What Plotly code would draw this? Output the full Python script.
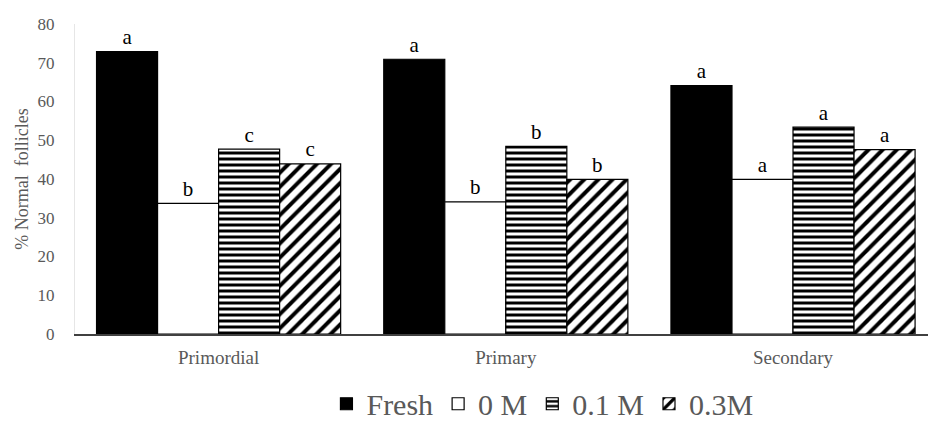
import plotly.graph_objects as go

categories = ["Primordial", "Primary", "Secondary"]
series_names = ["Fresh", "0 M", "0.1 M", "0.3M"]
fresh = [72.9, 70.9, 64.1]
m0 = [33.7, 34.1, 39.9]
m01 = [47.7, 48.4, 53.4]
m03 = [43.9, 39.9, 47.6]
letters_fresh = ["a", "a", "a"]
letters_m0 = ["b", "b", "a"]
letters_m01 = ["c", "b", "a"]
letters_m03 = ["c", "b", "a"]
y_ticks = [0, 10, 20, 30, 40, 50, 60, 70, 80]

serif = "Liberation Serif, Times New Roman, serif"
grey = "#595959"

styles = [
    dict(color="black", pattern=None),
    dict(color="white", pattern=None),
    dict(color="white", pattern=dict(shape="-", fgcolor="black", bgcolor="white", size=6, solidity=0.5,
                                     fgopacity=1, fillmode="replace")),
    dict(color="white", pattern=dict(shape="/", fgcolor="black", bgcolor="white", size=10, solidity=0.4,
                                     fgopacity=1, fillmode="replace")),
]

fig = go.Figure()
all_vals = [fresh, m0, m01, m03]
all_lets = [letters_fresh, letters_m0, letters_m01, letters_m03]
for name, vals, st in zip(series_names, all_vals, styles):
    marker = dict(color=st["color"], line=dict(color="black", width=1.2))
    if st["pattern"]:
        marker["pattern"] = st["pattern"]
    fig.add_trace(go.Bar(
        name=name, x=categories, y=vals, offsetgroup=name, alignmentgroup="g",
        marker=marker,
    ))
for name, vals, lets in zip(series_names, all_vals, all_lets):
    fig.add_trace(go.Scatter(
        x=categories, y=vals, text=lets, mode="markers+text", textposition="top center",
        offsetgroup=name, alignmentgroup="g", showlegend=False, hoverinfo="skip",
        marker=dict(size=2, opacity=0), cliponaxis=False,
        textfont=dict(family=serif, size=21, color="black"),
    ))

fig.update_layout(
    width=928, height=423,
    margin=dict(l=75, r=0, t=24, b=89, autoexpand=False),
    paper_bgcolor="white", plot_bgcolor="white",
    barmode="group", bargap=0.15, bargroupgap=0,
    scattermode="group", scattergap=0.15,
    font=dict(family=serif, color=grey, size=16),
    legend=dict(orientation="h", x=0.548, xanchor="center", y=-0.225, yanchor="middle",
                font=dict(family=serif, size=30, color=grey),
                itemwidth=30, tracegroupgap=0),
    showlegend=True,
)
fig.update_xaxes(range=[-0.5, 2.47], showline=True, linecolor="#404040", linewidth=1.5,
                 ticks="", ticklabelstandoff=5,
                 tickfont=dict(family=serif, size=19, color=grey), showgrid=False)
fig.update_yaxes(range=[0, 80], tickvals=y_ticks, showgrid=False, zeroline=False,
                 showline=True, linecolor="#e6e6e6", linewidth=1, ticks="",
                 ticklabelstandoff=16,
                 tickfont=dict(family=serif, size=17, color=grey),
                 title=dict(text="% Normal  follicles", font=dict(family=serif, size=18, color=grey), standoff=4))

fig.write_html("out.html")
